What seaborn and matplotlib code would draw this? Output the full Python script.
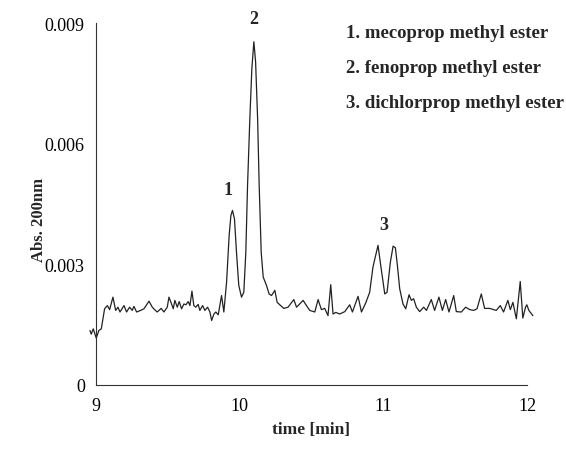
import matplotlib
matplotlib.use("Agg")
import matplotlib.pyplot as plt
import seaborn as sns
import pandas as pd

# retention time [min]
time_min = [
    8.958, 8.967, 8.981, 9.002, 9.020, 9.037, 9.060, 9.079, 9.095, 9.118,
    9.137, 9.153, 9.167, 9.195, 9.213, 9.234, 9.252, 9.264, 9.283, 9.311,
    9.334, 9.369, 9.392, 9.408, 9.426, 9.454, 9.473, 9.496, 9.508, 9.522,
    9.538, 9.549, 9.566, 9.579, 9.596, 9.612, 9.626, 9.642, 9.654, 9.668,
    9.681, 9.695, 9.711, 9.723, 9.742, 9.758, 9.777, 9.793, 9.805, 9.821,
    9.834, 9.851, 9.874, 9.890, 9.909, 9.927, 9.939, 9.950, 9.964, 9.978,
    9.994, 10.013, 10.029, 10.043, 10.055, 10.071, 10.085, 10.099, 10.111, 10.125,
    10.136, 10.150, 10.164, 10.187, 10.205, 10.222, 10.245, 10.261, 10.285, 10.307,
    10.337, 10.377, 10.396, 10.442, 10.465, 10.488, 10.523, 10.546, 10.569, 10.592,
    10.615, 10.634, 10.650, 10.669, 10.697, 10.732, 10.766, 10.785, 10.824, 10.848,
    10.878, 10.905, 10.928, 10.963, 10.982, 11.010, 11.026, 11.049, 11.068, 11.084,
    11.098, 11.114, 11.137, 11.156, 11.179, 11.195, 11.211, 11.230, 11.253, 11.281,
    11.300, 11.334, 11.357, 11.387, 11.411, 11.434, 11.457, 11.490, 11.508, 11.543,
    11.573, 11.601, 11.629, 11.652, 11.682, 11.705, 11.740, 11.786, 11.814, 11.837,
    11.867, 11.884, 11.902, 11.926, 11.953, 11.971, 11.990, 11.999, 12.013, 12.041,
]

# absorbance at 200 nm, in units of 1e-3
absorbance_milli = [
    1.35, 1.26, 1.39, 1.16, 1.35, 1.39, 1.89, 1.97, 1.87, 2.18,
    1.85, 1.93, 1.81, 1.97, 1.81, 1.93, 1.85, 1.95, 1.81, 1.85,
    1.89, 2.08, 1.93, 1.87, 1.81, 1.90, 1.81, 1.93, 2.18, 2.05,
    1.89, 2.10, 1.93, 2.07, 1.89, 2.01, 1.99, 2.07, 1.97, 2.33,
    1.97, 1.93, 2.00, 1.85, 1.97, 1.85, 1.93, 1.81, 1.60, 1.76,
    1.81, 1.74, 2.22, 1.81, 2.55, 3.72, 4.21, 4.34, 4.13, 3.30,
    2.47, 2.18, 2.30, 3.30, 4.96, 6.63, 7.87, 8.54, 8.04, 6.63,
    4.96, 3.30, 2.68, 2.47, 2.26, 2.22, 2.35, 2.05, 1.97, 1.90,
    1.93, 2.12, 1.93, 2.10, 1.97, 1.85, 1.81, 2.12, 1.87, 1.90,
    1.72, 2.49, 1.76, 1.80, 1.76, 1.82, 1.99, 1.81, 2.20, 1.81,
    2.04, 2.30, 2.93, 3.47, 2.97, 2.26, 2.30, 3.05, 3.45, 3.41,
    2.97, 2.39, 2.01, 1.89, 2.24, 2.10, 2.14, 1.93, 1.82, 1.93,
    1.85, 2.12, 1.85, 2.18, 1.85, 2.12, 1.81, 2.22, 1.82, 1.81,
    1.93, 1.87, 1.85, 1.89, 2.26, 1.90, 1.90, 1.85, 1.97, 1.81,
    2.10, 1.87, 2.05, 1.64, 2.57, 1.66, 1.93, 1.99, 1.85, 1.72,
]

peak_labels = ["1", "2", "3"]
peak_label_x = [9.92, 10.10, 11.00]
peak_label_y = [0.00486, 0.00912, 0.00400]

legend_lines = ["1. mecoprop methyl ester",
                "2. fenoprop methyl ester",
                "3. dichlorprop methyl ester"]

y_ticks = [0, 0.003, 0.006, 0.009]
y_tick_labels = ["0", "0.003", "0.006", "0.009"]
x_ticks = [9, 10, 11, 12]

df = pd.DataFrame({"time": time_min,
                   "abs": [v / 1000.0 for v in absorbance_milli]})

sns.set_theme(style="white")
plt.rcParams["font.family"] = ["Liberation Serif", "DejaVu Serif"]

fig = plt.figure(figsize=(5.66, 4.52), dpi=100)
ax = fig.add_axes([0.1518, 0.1467, 0.7945, 0.7996])

sns.lineplot(data=df, x="time", y="abs", ax=ax, color="#222222",
             linewidth=0.9, sort=False, estimator=None)

ax.set_xlim(8.93, 12.06)
ax.set_ylim(0, 0.009)
ax.spines["top"].set_visible(False)
ax.spines["right"].set_visible(False)
ax.spines["left"].set_position(("data", 9))
ax.spines["bottom"].set_bounds(9, 12)
for s in ("left", "bottom"):
    ax.spines[s].set_color("#333333")
    ax.spines[s].set_linewidth(0.8)

ax.set_xticks(x_ticks)
ax.set_xticklabels([str(v) for v in x_ticks])
ax.set_yticks(y_ticks)
ax.set_yticklabels(y_tick_labels)
ax.tick_params(axis="both", direction="inout", length=8, width=0.8,
               color="#333333", labelsize=13, labelcolor="black")
ax.tick_params(axis="x", pad=5)
ax.tick_params(axis="y", pad=4)

ax.set_xlabel("time [min]", fontsize=12.5, fontweight="bold", labelpad=5)
ax.set_ylabel("")
fig.text(0.069, 0.513, "Abs. 200nm", rotation=90, fontsize=12,
         fontweight="bold", ha="center", va="center")

for lab, x, y in zip(peak_labels, peak_label_x, peak_label_y):
    ax.text(x, y, lab, ha="center", va="center", fontsize=13,
            fontweight="bold", clip_on=False)

for i, line in enumerate(legend_lines):
    fig.text(346 / 566, 1 - (38 + 35 * i) / 452, line, fontsize=13.5,
             fontweight="bold", ha="left", va="baseline")

fig.savefig("out.png", dpi=100)
